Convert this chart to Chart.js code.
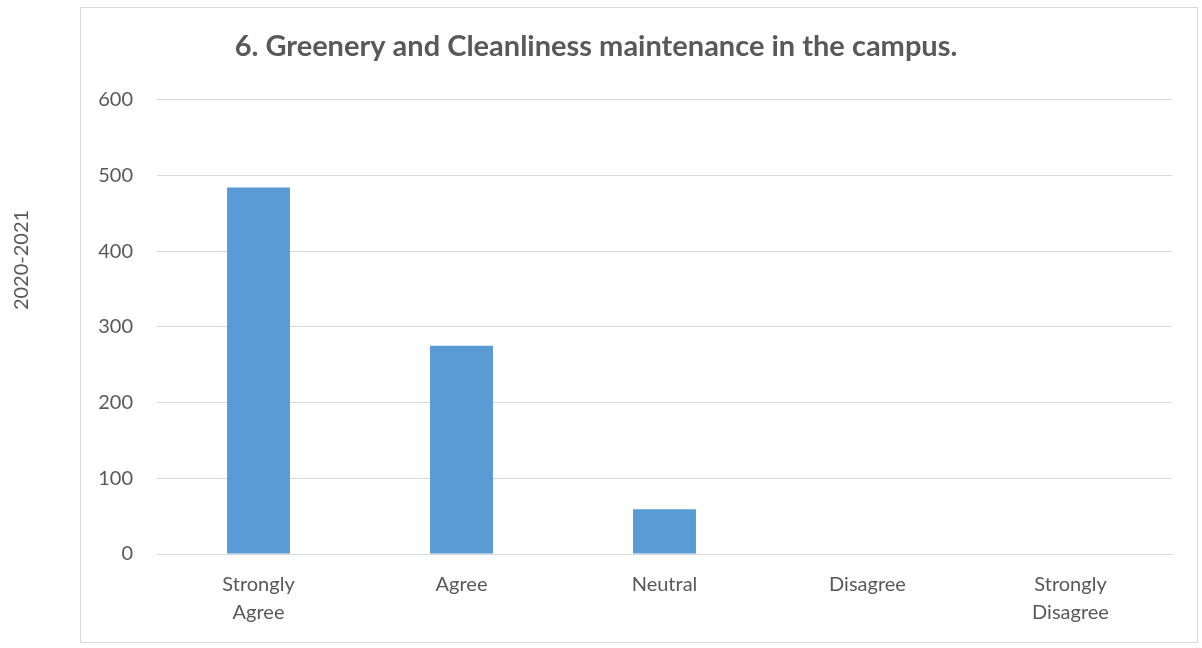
<!DOCTYPE html>
<html>
<head>
<meta charset="utf-8">
<script src="https://cdn.jsdelivr.net/npm/chart.js@4.4.1/dist/chart.umd.min.js"></script>
<style>
  html, body { margin: 0; padding: 0; background: #fff; }
  #wrap { position: absolute; left: 0; top: 0; width: 1202px; height: 648px; }
</style>
</head>
<body>
<div id="wrap"><canvas id="myChart" width="1202" height="648"></canvas></div>
<script>
// chart data
const categories = [['Strongly', 'Agree'], 'Agree', 'Neutral', 'Disagree', ['Strongly', 'Disagree']];
const responses = [484, 275, 59, 0, 0];
const yTicks = [0, 100, 200, 300, 400, 500, 600];
const chartTitle = '6. Greenery and Cleanliness maintenance in the campus.';
const yearLabel = '2020-2021';

const textGray = '#595959';
const fontFamily = 'Lato, "Open Sans", sans-serif';

// outer frame and rotated year label, like the Excel chart box
const framePlugin = {
  id: 'frame',
  beforeDraw(chart) {
    const c = chart.ctx;
    c.save();
    c.fillStyle = '#fff';
    c.fillRect(0, 0, chart.width, chart.height);
    c.strokeStyle = '#d9d9d9';
    c.lineWidth = 1;
    c.strokeRect(80.5, 7.5, 1117, 635);
    c.translate(22, 260);
    c.rotate(-Math.PI / 2);
    c.fillStyle = textGray;
    c.font = '20px ' + fontFamily;
    c.textAlign = 'center';
    c.textBaseline = 'middle';
    c.fillText(yearLabel, 0, 0);
    c.restore();
  }
};

const ctx = document.getElementById('myChart').getContext('2d');
new Chart(ctx, {
  type: 'bar',
  data: {
    labels: categories,
    datasets: [{
      label: yearLabel,
      data: responses,
      backgroundColor: '#5b9bd5',
      borderWidth: 0,
      categoryPercentage: 1,
      barPercentage: 0.31
    }]
  },
  options: {
    responsive: false,
    animation: false,
    layout: { padding: { left: 20, right: 30, top: 0, bottom: 21 } },
    plugins: {
      legend: { display: false },
      tooltip: { enabled: false },
      title: {
        display: true,
        text: chartTitle,
        color: textGray,
        font: { family: fontFamily, size: 29, weight: 'bold', lineHeight: 1.2 },
        padding: { top: 29, bottom: 36 }
      }
    },
    scales: {
      x: {
        grid: { display: false, drawTicks: false },
        border: { color: '#d9d9d9' },
        ticks: {
          color: textGray,
          padding: 17,
          maxRotation: 0,
          font: { family: fontFamily, size: 20, lineHeight: 1.4 }
        },
        afterFit(scale) { scale.height = 73; }
      },
      y: {
        min: 0,
        max: 600,
        afterBuildTicks(scale) { scale.ticks = yTicks.map(v => ({ value: v })); },
        grid: { color: '#d9d9d9', drawTicks: false },
        border: { display: false },
        ticks: {
          color: textGray,
          padding: 24,
          font: { family: fontFamily, size: 20 }
        },
        afterFit(scale) { scale.width = 137; }
      }
    }
  },
  plugins: [framePlugin]
});
</script>
</body>
</html>
